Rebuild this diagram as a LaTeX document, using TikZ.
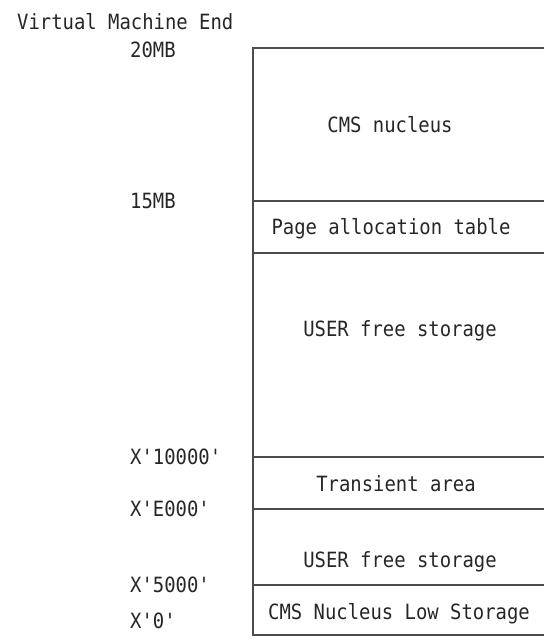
\documentclass[tikz,border=0pt]{standalone}
\usepackage{fontspec}
\setmonofont[FakeStretch=0.9]{DejaVu Sans Mono}
\begin{document}
\begin{tikzpicture}[x=1pt,y=-1pt,
  lbl/.style={font=\ttfamily\fontsize{21}{24}\selectfont, text=black!85, inner sep=0pt, anchor=base west},
  txt/.style={font=\ttfamily\fontsize{21}{24}\selectfont, text=black!85, inner sep=0pt, anchor=base},
  rule/.style={draw=black!70, line width=1.4pt}]
\useasboundingbox (0,0) rectangle (544,643);
% levels of the memory map
\coordinate (t0) at (253,48);   \coordinate (r0) at (544,48);
\coordinate (t1) at (253,201);  \coordinate (r1) at (544,201);
\coordinate (t2) at (253,253);  \coordinate (r2) at (544,253);
\coordinate (t3) at (253,457);  \coordinate (r3) at (544,457);
\coordinate (t4) at (253,509);  \coordinate (r4) at (544,509);
\coordinate (t5) at (253,585);  \coordinate (r5) at (544,585);
\coordinate (t6) at (253,635);  \coordinate (r6) at (544,635);
\draw[rule] (r0) -- (t0) -- (t6) -- (r6);
\draw[rule] (t1) -- (r1);
\draw[rule] (t2) -- (r2);
\draw[rule] (t3) -- (r3);
\draw[rule] (t4) -- (r4);
\draw[rule] (t5) -- (r5);
% left labels
\node[lbl] (vme) at (17,29) {Virtual Machine End};
\node[lbl] (m20) at (130,57) {20MB};
\node[lbl] (m15) at (130,208) {15MB};
\node[lbl] (x10000) at (130,464) {X'10000'};
\node[lbl] (xe000) at (130,516) {X'E000'};
\node[lbl] (x5000) at (130,592) {X'5000'};
\node[lbl] (x0) at (130,628) {X'0'};
% region texts
\node[txt] (nuc) at (390,132) {CMS nucleus};
\node[txt] (pat) at (391,234) {Page allocation table};
\node[txt] (ufs1) at (400,336) {USER free storage};
\node[txt] (tra) at (396,491) {Transient area};
\node[txt] (ufs2) at (400,567) {USER free storage};
\node[txt] (low) at (399,619) {CMS Nucleus Low Storage};
\end{tikzpicture}
\end{document}
